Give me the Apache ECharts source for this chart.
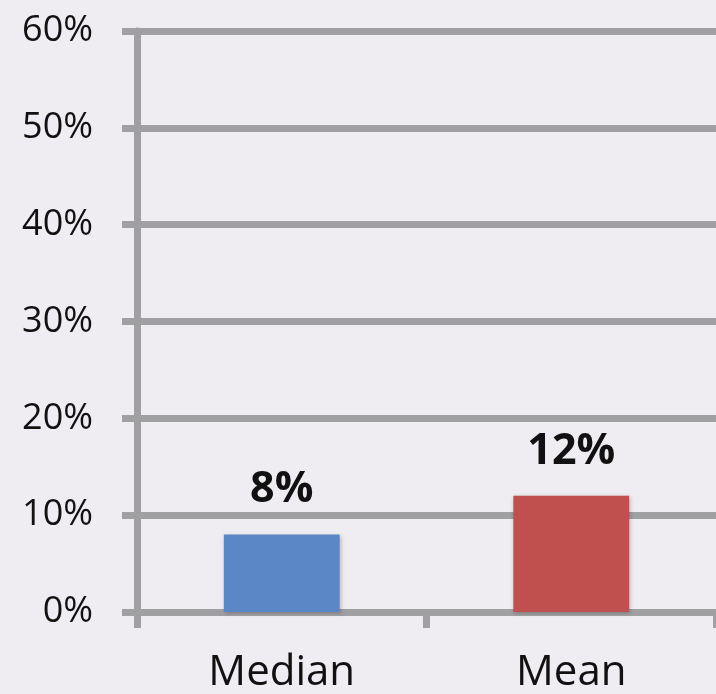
<!DOCTYPE html>
<html>
<head>
<meta charset="utf-8">
<script src="https://cdn.jsdelivr.net/npm/echarts@6/dist/echarts.min.js"></script>
<style>
  html, body { margin: 0; padding: 0; background: #efedf2; }
  #chart { width: 716px; height: 694px; }
</style>
</head>
<body>
<div id="chart"></div>
<script>
// Summary statistics, in percent
const categories = ['Median', 'Mean'];
const values = [8, 12];
const barColors = ['#5b87c7', '#c0504d'];
const yMin = 0, yMax = 60, yStep = 10;

const FONT = '"Open Sans", "Noto Sans", sans-serif';
const GRID_GREY = '#a0a0a2';

const chart = echarts.init(document.getElementById('chart'));
chart.setOption({
  backgroundColor: '#efedf2',
  animation: false,
  grid: { left: 137, right: -1, top: 31, bottom: 81 },
  xAxis: {
    type: 'category',
    data: categories,
    axisLine: { show: true, lineStyle: { color: GRID_GREY, width: 7 } },
    axisTick: { show: true, alignWithLabel: false, length: 16, lineStyle: { color: GRID_GREY, width: 7 } },
    axisLabel: { color: '#111', fontFamily: FONT, fontSize: 42, margin: 40 }
  },
  yAxis: {
    type: 'value',
    min: yMin, max: yMax, interval: yStep,
    axisLine: { show: true, lineStyle: { color: GRID_GREY, width: 7 } },
    axisTick: { show: true, length: 15, lineStyle: { color: GRID_GREY, width: 7 } },
    splitLine: { show: true, lineStyle: { color: GRID_GREY, width: 7 } },
    axisLabel: { color: '#111', fontFamily: FONT, fontSize: 36, margin: 44, formatter: '{value}%' }
  },
  series: [{
    type: 'bar',
    barWidth: '40%',
    data: values.map((v, i) => ({
      value: v,
      itemStyle: {
        color: barColors[i],
        shadowColor: 'rgba(0,0,0,0.25)', shadowBlur: 4, shadowOffsetX: 1, shadowOffsetY: 1
      }
    })),
    label: {
      show: true, position: 'top', distance: 23,
      formatter: '{c}%',
      color: '#111', fontFamily: FONT, fontWeight: 'bold', fontSize: 43
    }
  }]
});
</script>
</body>
</html>
